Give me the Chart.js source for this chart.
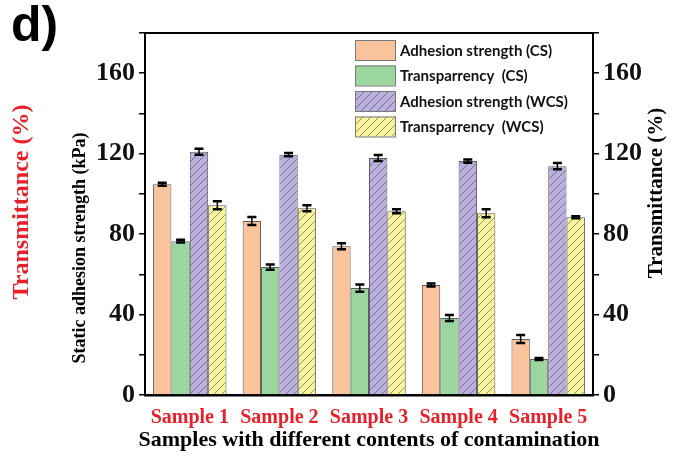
<!DOCTYPE html>
<html>
<head>
<meta charset="utf-8">
<script src="https://cdn.jsdelivr.net/npm/chart.js@4.4.1/dist/chart.umd.min.js"></script>
<style>
  body { margin: 0; background: #fff; }
  #wrap { width: 680px; height: 458px; }
</style>
</head>
<body>
<div id="wrap"><canvas id="barChart" width="680" height="458"></canvas></div>
<script>
const samples = ['Sample 1', 'Sample 2', 'Sample 3', 'Sample 4', 'Sample 5'];
const adhesionCS = [104.8, 86.5, 74, 54.7, 27.8];
const adhesionCSErr = [0.8, 2, 1.5, 0.7, 2];
const transCS = [76.5, 63.6, 53.2, 38.3, 17.9];
const transCSErr = [0.7, 1.3, 1.8, 1.5, 0.5];
const adhesionWCS = [121, 119.5, 117.8, 116.3, 113.8];
const adhesionWCSErr = [1.5, 0.8, 1.5, 0.8, 1.5];
const transWCS = [94.4, 92.9, 91.4, 90.4, 88.4];
const transWCSErr = [2, 1.5, 1, 2, 0.5];
const yTicks = [0, 40, 80, 120, 160];

function hatch(bg, line) {
  const c = document.createElement('canvas');
  c.width = 8; c.height = 8;
  const g = c.getContext('2d');
  g.fillStyle = bg;
  g.fillRect(0, 0, 8, 8);
  g.strokeStyle = line;
  g.lineWidth = 0.9;
  g.beginPath();
  g.moveTo(0, 8); g.lineTo(8, 0);
  g.moveTo(-1, 1); g.lineTo(1, -1);
  g.moveTo(7, 9); g.lineTo(9, 7);
  g.stroke();
  return g.createPattern(c, 'repeat');
}

const ctx = document.getElementById('barChart').getContext('2d');
const purpleHatch = hatch('#bcb0dc', '#6e6690');
const yellowHatch = hatch('#f8f39e', '#8c8a5a');

const errors = [adhesionCSErr, transCSErr, adhesionWCSErr, transWCSErr];

const errorBars = {
  id: 'errorBars',
  afterDatasetsDraw(chart) {
    const c = chart.ctx;
    c.save();
    c.strokeStyle = '#000';
    chart.data.datasets.forEach((ds, i) => {
      const meta = chart.getDatasetMeta(i);
      const scale = chart.scales[meta.yAxisID];
      meta.data.forEach((bar, j) => {
        const v = ds.data[j], e = errors[i][j];
        const yT = scale.getPixelForValue(v + e);
        const yB = scale.getPixelForValue(v - e);
        c.lineWidth = 1.5;
        c.beginPath();
        c.moveTo(bar.x, yT); c.lineTo(bar.x, yB);
        c.stroke();
        c.lineWidth = 2.5;
        c.beginPath();
        c.moveTo(bar.x - 4.5, yT); c.lineTo(bar.x + 4.5, yT);
        c.moveTo(bar.x - 4.5, yB); c.lineTo(bar.x + 4.5, yB);
        c.stroke();
      });
    });
    c.restore();
  }
};

const decorations = {
  id: 'decorations',
  afterDraw(chart) {
    const c = chart.ctx;
    const a = chart.chartArea;
    c.save();
    // top frame
    c.strokeStyle = '#000';
    c.lineWidth = 2;
    c.beginPath();
    c.moveTo(a.left - 1, a.top); c.lineTo(a.right + 1, a.top);
    c.stroke();

    // legend inside the plot
    chart.data.datasets.forEach((ds, i) => {
      const y = 40 + i * 25.5;
      c.fillStyle = ds.backgroundColor;
      c.fillRect(355, y, 40, 20);
      c.strokeStyle = '#777';
      c.lineWidth = 1;
      c.strokeRect(355.5, y + 0.5, 40, 20);
      c.fillStyle = '#111';
      c.font = 'bold 15px Lato';
      c.textBaseline = 'middle';
      c.textAlign = 'left';
      c.fillText(ds.label, 400, y + 11);
    });

    // panel letter
    c.fillStyle = '#000';
    c.font = 'bold 50px "Liberation Sans"';
    c.textBaseline = 'alphabetic';
    c.fillText('d)', 11, 41);

    // axis titles
    c.textAlign = 'center';
    c.textBaseline = 'middle';
    c.save();
    c.translate(80, 248);
    c.rotate(-Math.PI / 2);
    c.font = 'bold 18px "Liberation Serif"';
    c.fillText('Static adhesion strength (kPa)', 0, 0);
    c.restore();

    c.save();
    c.translate(22, 202);
    c.rotate(-Math.PI / 2);
    c.fillStyle = '#e8202a';
    c.font = 'bold 24px "Liberation Serif"';
    c.fillText('Transmittance (%)', 0, 0);
    c.restore();

    c.save();
    c.translate(657, 193);
    c.rotate(-Math.PI / 2);
    c.font = 'bold 21px "Liberation Serif"';
    c.fillText('Transmittance (%)', 0, 0);
    c.restore();

    c.font = 'bold 22px "Liberation Serif"';
    c.fillText('Samples with different contents of contamination', 369, 440);
    c.restore();
  }
};

const tickOpts = {
  stepSize: 20,
  autoSkip: false,
  color: '#111',
  padding: 4,
  font: { family: 'Liberation Serif', size: 26, weight: 'bold' },
  callback: v => yTicks.includes(v) ? v : ''
};

new Chart(ctx, {
  type: 'bar',
  data: {
    labels: samples,
    datasets: [{
      label: 'Adhesion strength (CS)',
      data: adhesionCS,
      backgroundColor: '#f9c39b',
      yAxisID: 'y'
    }, {
      label: 'Transparrency  (CS)',
      data: transCS,
      backgroundColor: '#9ad69e',
      yAxisID: 'y2'
    }, {
      label: 'Adhesion strength (WCS)',
      data: adhesionWCS,
      backgroundColor: purpleHatch,
      yAxisID: 'y'
    }, {
      label: 'Transparrency  (WCS)',
      data: transWCS,
      backgroundColor: yellowHatch,
      yAxisID: 'y2'
    }]
  },
  options: {
    responsive: false,
    animation: false,
    layout: { padding: { top: 33, left: 0, right: 0, bottom: 0 } },
    datasets: {
      bar: {
        borderColor: '#5c5c5c',
        borderWidth: 1,
        categoryPercentage: 0.82,
        barPercentage: 1
      }
    },
    plugins: {
      legend: { display: false },
      tooltip: { enabled: false }
    },
    scales: {
      x: {
        grid: { display: false },
        border: { color: '#000', width: 2.5 },
        ticks: {
          color: '#e8202a',
          padding: 3,
          font: { family: 'Liberation Serif', size: 20, weight: 'bold' }
        },
        afterFit: s => { s.height = 63; }
      },
      y: {
        position: 'left',
        min: 0,
        max: 180,
        grid: { drawOnChartArea: false, color: '#000', lineWidth: 1.5, tickLength: 6 },
        border: { color: '#000', width: 2 },
        ticks: tickOpts,
        afterFit: s => { s.width = 145; }
      },
      y2: {
        position: 'right',
        min: 0,
        max: 180,
        grid: { drawOnChartArea: false, color: '#000', lineWidth: 1.5, tickLength: 6 },
        border: { color: '#000', width: 2 },
        ticks: tickOpts,
        afterFit: s => { s.width = 87; }
      }
    }
  },
  plugins: [errorBars, decorations]
});
</script>
</body>
</html>
